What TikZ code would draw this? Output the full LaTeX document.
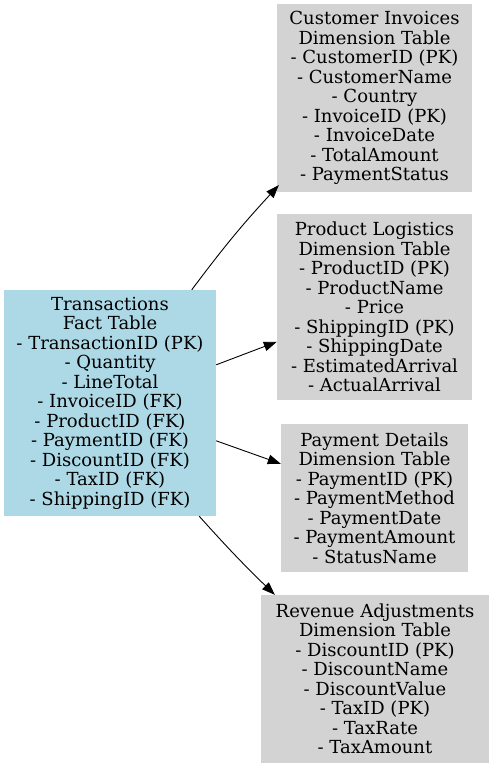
\documentclass[tikz,border=0pt]{standalone}
\usepackage{fontspec}
\setmainfont{DejaVu Serif}
\usetikzlibrary{arrows.meta,calc}
\definecolor{factblue}{HTML}{ADD8E6}
\definecolor{dimgray}{HTML}{D3D3D3}
\begin{document}
\begin{tikzpicture}[x=1pt,y=-1pt,
  tbl/.style={draw=none,inner sep=0pt,align=center,font=\fontsize{18}{19.5}\selectfont},
  facttbl/.style={tbl,fill=factblue},
  dimtbl/.style={tbl,fill=dimgray},
  rel/.style={line width=0.9pt,-{Triangle[length=13pt,width=9.5pt]}}]
\useasboundingbox (0,0) rectangle (492,768);
\fill[white] (0,0) rectangle (492,768);
\node[facttbl,minimum width=212pt,minimum height=226pt] (fact) at (110,403)
  {Transactions\\Fact Table\\- TransactionID (PK)\\- Quantity\\- LineTotal\\- InvoiceID (FK)\\- ProductID (FK)\\- PaymentID (FK)\\- DiscountID (FK)\\- TaxID (FK)\\- ShippingID (FK)};
\node[dimtbl,minimum width=195pt,minimum height=188pt] (cust) at (374.5,98)
  {Customer Invoices\\Dimension Table\\- CustomerID (PK)\\- CustomerName\\- Country\\- InvoiceID (PK)\\- InvoiceDate\\- TotalAmount\\- PaymentStatus};
\node[dimtbl,minimum width=195pt,minimum height=186pt] (prod) at (374.5,307)
  {Product Logistics\\Dimension Table\\- ProductID (PK)\\- ProductName\\- Price\\- ShippingID (PK)\\- ShippingDate\\- EstimatedArrival\\- ActualArrival};
\node[dimtbl,minimum width=187pt,minimum height=148pt] (pay) at (374.5,498)
  {Payment Details\\Dimension Table\\- PaymentID (PK)\\- PaymentMethod\\- PaymentDate\\- PaymentAmount\\- StatusName};
\node[dimtbl,minimum width=228pt,minimum height=168pt] (rev) at (375,679)
  {Revenue Adjustments\\Dimension Table\\- DiscountID (PK)\\- DiscountName\\- DiscountValue\\- TaxID (PK)\\- TaxRate\\- TaxAmount};
\coordinate (f1) at ($(fact.north west)!0.885!(fact.north east)$);
\coordinate (f2) at ($(fact.north east)+(0,75)$);
\coordinate (f3) at ($(fact.north east)+(0,151)$);
\coordinate (f4) at ($(fact.south west)!0.92!(fact.south east)$);
\coordinate (c1) at ($(cust.south west)+(2,-7)$);
\coordinate (p1) at ($(prod.north west)+(0,128)$);
\coordinate (q1) at ($(pay.north west)+(0,40)$);
\coordinate (r1) at ($(rev.north west)+(14,0)$);
\draw[rel] (f1) to[bend left=3] (c1);
\draw[rel] (f2) -- (p1);
\draw[rel] (f3) -- (q1);
\draw[rel] (f4) to[bend right=2] (r1);
\end{tikzpicture}
\end{document}
